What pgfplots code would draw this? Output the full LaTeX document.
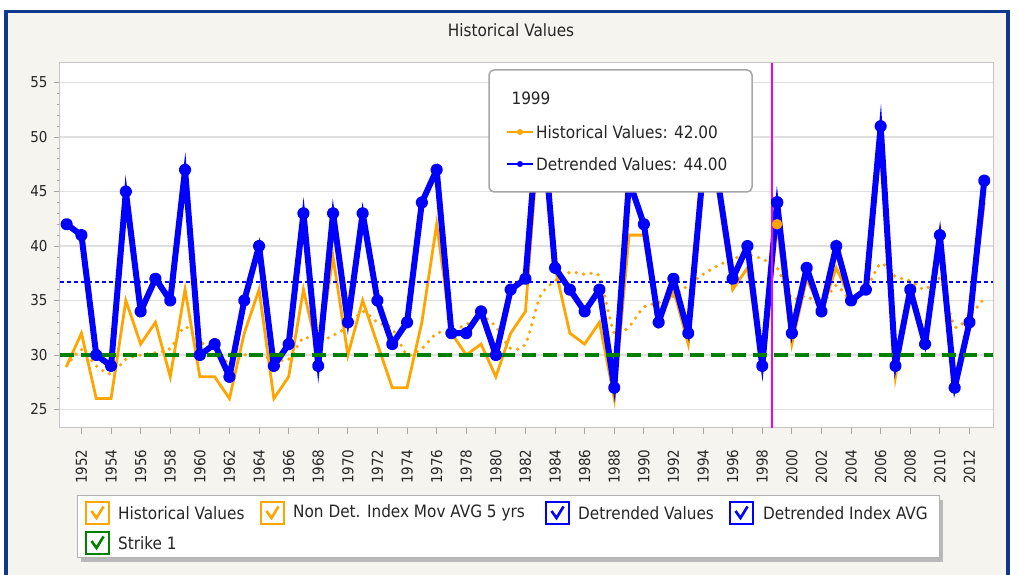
\documentclass[border=0pt]{standalone}
\usepackage{fontspec}
\setmainfont{DejaVu Sans Condensed}
\usepackage{pgfplots}
\usepackage{pgfplotstable}
\pgfplotsset{compat=1.18}
\definecolor{oran}{RGB}{255,165,0}
\definecolor{blu}{RGB}{0,0,255}
\definecolor{grn}{RGB}{0,128,0}
\definecolor{framebl}{RGB}{16,56,140}
\definecolor{bgb}{RGB}{245,244,239}
\definecolor{mag}{RGB}{240,0,240}
\newcommand\checkbox[3]{% x, y (centre), colour
  \draw[draw=#3, line width=1.4pt, fill=white] (#1-11.5pt,#2-11pt) rectangle (#1+11.5pt,#2+11pt);
  \draw[draw=#3, line width=2.6pt] (#1-6pt,#2+2pt) -- (#1-1pt,#2-5pt) -- (#1+6pt,#2+6.5pt);}
\pgfplotstableread{
year hist mavg detr
1951 29 29 42
1952 32 30.5 41
1953 26 29 30
1954 26 28.25 29
1955 35 29.6 45
1956 31 30 34
1957 33 30.2 37
1958 28 30.6 35
1959 36 32.6 47
1960 28 31.2 30
1961 28 30.6 31
1962 26 29.2 28
1963 32 30 35
1964 36 30 40
1965 26 29.6 29
1966 28 29.6 31
1967 36 31.6 43
1968 30 31.2 29
1969 39 31.8 43
1970 30 32.6 33
1971 35 34 43
1972 31 33 35
1973 27 32.4 31
1974 27 30 33
1975 33 30.6 44
1976 42 32 47
1977 32 32.2 32
1978 30 32.8 32
1979 31 33.6 34
1980 28 32.6 30
1981 32 30.6 36
1982 34 31 37
1983 52 35.4 54
1984 38 36.8 38
1985 32 37.6 36
1986 31 37.4 34
1987 33 37.2 36
1988 26 32 27
1989 41 32.6 46
1990 41 34.4 42
1991 33 34.8 33
1992 36 35.4 37
1993 31 36.4 32
1994 46 37.4 47
1995 45 38.2 46
1996 36 38.8 37
1997 38 39.2 40
1998 29 38.8 29
1999 42 38 44
2000 31 35.2 32
2001 37 35.4 38
2002 34 34.6 34
2003 38 36.4 40
2004 35 35 35
2005 36 36 36
2006 49 38.4 51
2007 28 37.2 29
2008 36 36.8 36
2009 31 36 31
2010 41 37 41
2011 27 32.6 27
2012 33 33.6 33
2013 44 35.2 46
}\data
\begin{document}
\begin{tikzpicture}
\useasboundingbox (0,0) rectangle (1018pt,575pt);
\fill[white] (0,0) rectangle (1018pt,575pt);
\fill[bgb] (6pt,-10pt) rectangle (1008pt,563.5pt);
\draw[framebl, line width=3.5pt] (6pt,-10pt) rectangle (1008pt,563.5pt);
\node[font=\fontsize{17}{20}\selectfont, text=black!85] at (511pt,545pt) {Historical Values};
\begin{axis}[
  at={(60pt,147pt)}, anchor=south west,
  width=933pt, height=365pt, scale only axis,
  xmin=1950.55, xmax=2013.59, ymin=23.3, ymax=56.8,
  axis background/.style={fill=white},
  axis line style={draw=gray!45, line width=1pt},
  tick pos=left, tick align=outside,
  tick style={draw=gray!70, line width=0.8pt},
  major tick length=6pt, minor tick length=3pt,
  xtick={1952,1954,...,2012}, minor x tick num=9,
  ytick={25,30,...,55}, minor y tick num=4,
  ymajorgrids, grid style={draw=gray!25, line width=1.3pt},
  /pgf/number format/.cd, 1000 sep={}, assume math mode=true, /pgfplots/.cd,
  ticklabel style={font=\fontsize{15}{18}\selectfont, text=black!85},
  xticklabel style={rotate=90, anchor=east, xshift=-12pt},
  yticklabel style={xshift=-3pt},
]
\addplot[oran, line width=2.8pt] table[x=year,y=hist]{\data};
\addplot[oran, line width=3.6pt, line cap=round, dash pattern=on 0pt off 7.5pt, smooth, tension=0.4] table[x=year,y=mavg]{\data};
\addplot[blu, line width=6pt, line join=round, mark=*, mark size=3.2pt] table[x=year,y=detr]{\data};
\addplot[blu, line width=3.4pt, line join=miter, miter limit=30] table[x=year,y=detr]{\data};
\addplot[blu, line width=1.3pt, dash pattern=on 4pt off 3pt] coordinates {(1950.55,36.7) (2013.59,36.7)};
\addplot[grn, line width=3.5pt, dash pattern=on 14pt off 7pt] coordinates {(1950.55,30) (2013.59,30)};
\addplot[mag, line width=1.5pt] coordinates {(1998.66,23.3) (1998.66,56.8)};
\addplot[only marks, mark=*, blu, mark size=6pt] coordinates {(1999,44)};
\addplot[only marks, mark=*, oran, mark size=5pt] coordinates {(1999,42)};
\end{axis}
% tooltip
\draw[gray!70, line width=1.5pt, fill=white, rounded corners=5pt] (489pt,505pt) rectangle (752pt,383pt);
\node[anchor=west, font=\fontsize{17}{20}\selectfont, text=black!85] at (508pt,477pt) {1999};
\draw[oran, line width=1.8pt] (507pt,443pt) -- (533pt,443pt);
\fill[oran] (520pt,443pt) circle (3pt);
\node[anchor=west, font=\fontsize{17}{20}\selectfont, text=black!85, inner sep=1pt] at (535pt,443pt) {Historical Values: 42.00};
\draw[blu, line width=1.8pt] (507pt,411pt) -- (533pt,411pt);
\fill[blu] (520pt,411pt) circle (3pt);
\node[anchor=west, font=\fontsize{17}{20}\selectfont, text=black!85, inner sep=1pt] at (535pt,411pt) {Detrended Values: 44.00};
% legend
\fill[gray!55] (81pt,13pt) rectangle (943pt,75pt);
\draw[gray!60, line width=1pt, fill=white] (77pt,17pt) rectangle (939pt,79pt);
\checkbox{97.5pt}{62pt}{oran}
\checkbox{272.5pt}{62pt}{oran}
\checkbox{557.5pt}{62pt}{blu}
\checkbox{741.5pt}{62pt}{blu}
\checkbox{97.5pt}{32pt}{grn}
\begin{scope}[every node/.style={anchor=west, font=\fontsize{17}{20}\selectfont, text=black!85, inner sep=0pt}]
\node at (118pt,62pt) {Historical Values};
\node at (293pt,62pt) {Non Det. Index Mov AVG 5 yrs};
\node at (578pt,62pt) {Detrended Values};
\node at (763pt,62pt) {Detrended Index AVG};
\node at (118pt,32pt) {Strike 1};
\end{scope}
\end{tikzpicture}
\end{document}
